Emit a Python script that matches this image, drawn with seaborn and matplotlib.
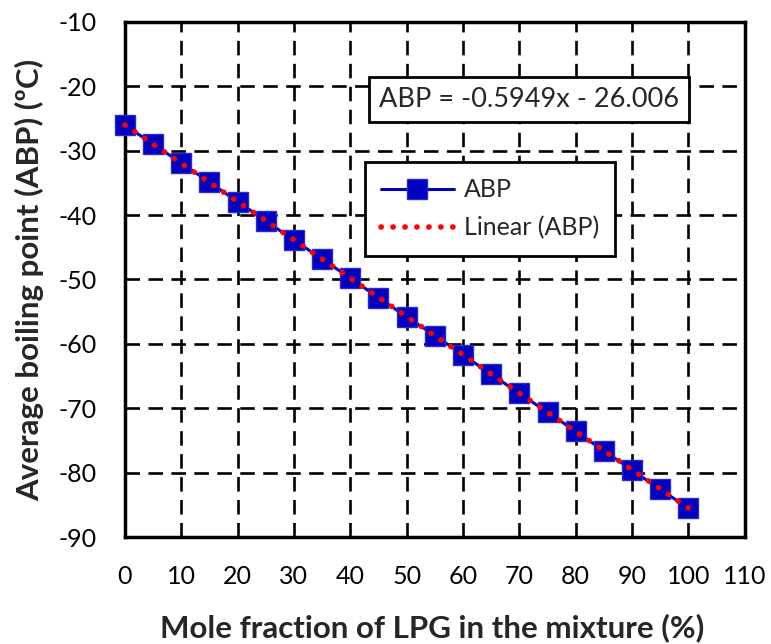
import numpy as np
import pandas as pd
import seaborn as sns
import matplotlib.pyplot as plt

# data
lpg_fraction = [0, 5, 10, 15, 20, 25, 30, 35, 40, 45, 50, 55, 60, 65, 70, 75, 80, 85, 90, 95, 100]
abp = [-26.0, -29.0, -31.9, -34.9, -37.9, -40.9, -43.9, -46.8, -49.8, -52.8, -55.8,
       -58.7, -61.7, -64.7, -67.7, -70.6, -73.6, -76.6, -79.6, -82.6, -85.5]
slope, intercept = -0.5949, -26.006
x_ticks = list(range(0, 111, 10))
y_ticks = list(range(-90, -9, 10))

df = pd.DataFrame({"x": lpg_fraction, "ABP": abp})
df["trend"] = slope * df["x"] + intercept

sns.set_style("white")
plt.rcParams["font.family"] = ["Lato", "DejaVu Sans"]
plt.rcParams["axes.unicode_minus"] = False

fig = plt.figure(figsize=(7.71, 6.44), dpi=100)
ax = fig.add_axes([0.162, 0.166, 0.804, 0.800])

sns.lineplot(data=df, x="x", y="ABP", ax=ax, color="#0000c0", linewidth=2.2,
             marker="s", markersize=15, markeredgecolor="#2a2ad0", markeredgewidth=1,
             label="ABP", zorder=3, clip_on=False)
sns.lineplot(data=df, x="x", y="trend", ax=ax, color="#ff0000", linewidth=4,
             linestyle=(0, (0.05, 2.1)), dash_capstyle="round",
             label="Linear (ABP)", zorder=4, clip_on=False)

ax.set_xlim(0, 110)
ax.set_ylim(-90, -10)
ax.set_xticks(x_ticks)
ax.set_yticks(y_ticks)
ax.tick_params(direction="in", length=8, width=2, labelsize=18, colors="black")
ax.tick_params(axis="x", pad=20)
ax.tick_params(axis="y", pad=20)
ax.grid(True, color="black", linestyle=(0, (5.5, 3.2)), linewidth=1.9)
for s in ax.spines.values():
    s.set_color("black")
    s.set_linewidth(2.5)

ax.set_xlabel("Mole fraction of LPG in the mixture (%)", fontsize=22.5, fontweight="bold")
ax.set_ylabel("Average boiling point (ABP) (\u00baC)", fontsize=22.5, fontweight="bold")
ax.xaxis.set_label_coords(0.495, -0.148)
ax.yaxis.set_label_coords(-0.13, 0.5)

ax.text(0.652, 0.849, "ABP = -0.5949x - 26.006", transform=ax.transAxes, fontsize=19.5,
        ha="center", va="center",
        bbox=dict(boxstyle="square,pad=0.38", facecolor="white", edgecolor="black", linewidth=2),
        zorder=6)

leg = ax.legend(loc="upper left", bbox_to_anchor=(0.387, 0.728), fontsize=18, frameon=True,
                fancybox=False, framealpha=1, edgecolor="black", borderpad=0.65,
                handlelength=2.9, handletextpad=0.4, labelspacing=0.6, borderaxespad=0)
leg.get_frame().set_linewidth(2)
leg.set_zorder(6)

fig.savefig("out.png", dpi=100)
